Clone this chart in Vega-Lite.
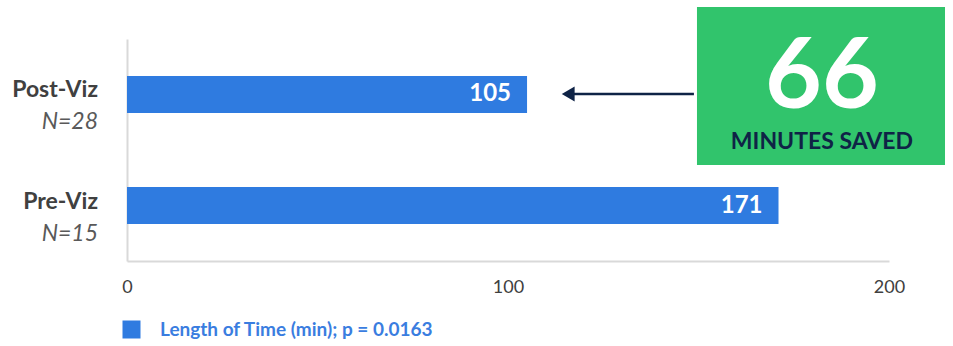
{
  "$schema": "https://vega.github.io/schema/vega-lite/v6.json",
  "autosize": {"type": "none"},
  "width": 762,
  "height": 222,
  "padding": {"left": 127, "top": 39, "right": 64, "bottom": 85},
  "background": "white",
  "config": {"view": {"stroke": null}, "font": "Lato"},
  "data": {"values": [
    {"group": "Post-Viz", "n": "N=28", "minutes": 105, "series": "Length of Time (min); p = 0.0163"},
    {"group": "Pre-Viz", "n": "N=15", "minutes": 171, "series": "Length of Time (min); p = 0.0163"}
  ]},
  "resolve": {"scale": {"y": "independent"}},
  "layer": [
    {
      "encoding": {
        "y": {"field": "group", "type": "nominal", "sort": ["Post-Viz", "Pre-Viz"],
          "scale": {"paddingInner": 0.667, "paddingOuter": 0.333},
          "axis": {"title": null, "labels": false, "ticks": false, "domainColor": "#d9d9d9", "domainWidth": 2, "grid": false}}
      },
      "layer": [
        {
          "mark": {"type": "bar", "cornerRadius": 0},
          "encoding": {
            "x": {"field": "minutes", "type": "quantitative", "scale": {"domain": [0, 200]},
              "axis": {"title": null, "values": [0, 100, 200], "ticks": false, "grid": false, "domainColor": "#d9d9d9", "domainWidth": 2,
                "labelFontSize": 18, "labelColor": "#404040", "labelPadding": 17, "labelFont": "Lato", "labelFlush": false}},
            "color": {"field": "series", "type": "nominal", "scale": {"range": ["#2F7BE0"]},
              "legend": {"title": null, "orient": "none", "legendX": -5, "legendY": 281, "symbolType": "square", "symbolSize": 324,
                "symbolStrokeWidth": 0, "labelFontSize": 19, "labelFontWeight": "bold", "labelColor": "#3A7DE0", "labelOffset": 19, "labelFont": "Lato", "labelLimit": 500}}
          }
        },
        {
          "mark": {"type": "text", "align": "right", "baseline": "middle", "dx": -16, "fontSize": 24, "fontWeight": "bold", "color": "white"},
          "encoding": {
            "x": {"field": "minutes", "type": "quantitative"},
            "text": {"field": "minutes", "type": "quantitative"}
          }
        },
        {
          "mark": {"type": "text", "align": "right", "baseline": "middle", "dx": -29, "dy": -4, "fontSize": 23, "fontWeight": "bold", "color": "#404040"},
          "encoding": {
            "x": {"datum": 0},
            "text": {"field": "group"}
          }
        },
        {
          "mark": {"type": "text", "align": "right", "baseline": "middle", "dx": -29, "dy": 28, "fontSize": 23, "fontStyle": "italic", "color": "#595959"},
          "encoding": {
            "x": {"datum": 0},
            "text": {"field": "n"}
          }
        }
      ]
    },
    {
      "data": {"values": [{"saved": 66, "caption": "MINUTES SAVED"}]},
      "layer": [
        {
          "mark": {"type": "rect", "color": "#31C46C"},
          "encoding": {
            "x": {"datum": 149.6}, "x2": {"datum": 214.7},
            "y": {"datum": 96, "type": "quantitative", "scale": {"domain": [0, 222]}, "axis": null}, "y2": {"datum": 254}
          }
        },
        {
          "mark": {"type": "rule", "color": "#0F2346", "strokeWidth": 2.5},
          "encoding": {
            "x": {"datum": 116}, "x2": {"datum": 148.8},
            "y": {"datum": 167, "type": "quantitative", "scale": {"domain": [0, 222]}, "axis": null}
          }
        },
        {
          "mark": {"type": "point", "shape": "triangle-left", "filled": true, "color": "#0F2346", "opacity": 1, "size": 220},
          "encoding": {
            "x": {"datum": 115.8},
            "y": {"datum": 167, "type": "quantitative", "scale": {"domain": [0, 222]}, "axis": null}
          }
        },
        {
          "mark": {"type": "text", "align": "center", "baseline": "alphabetic", "fontSize": 98, "fontWeight": "bold", "color": "white"},
          "encoding": {
            "x": {"datum": 182.4},
            "y": {"datum": 153, "type": "quantitative", "scale": {"domain": [0, 222]}, "axis": null},
            "text": {"field": "saved"}
          }
        },
        {
          "mark": {"type": "text", "align": "center", "baseline": "alphabetic", "fontSize": 23, "fontWeight": "bold", "color": "#0F2346"},
          "encoding": {
            "x": {"datum": 182.4},
            "y": {"datum": 112, "type": "quantitative", "scale": {"domain": [0, 222]}, "axis": null},
            "text": {"field": "caption"}
          }
        }
      ]
    }
  ]
}
